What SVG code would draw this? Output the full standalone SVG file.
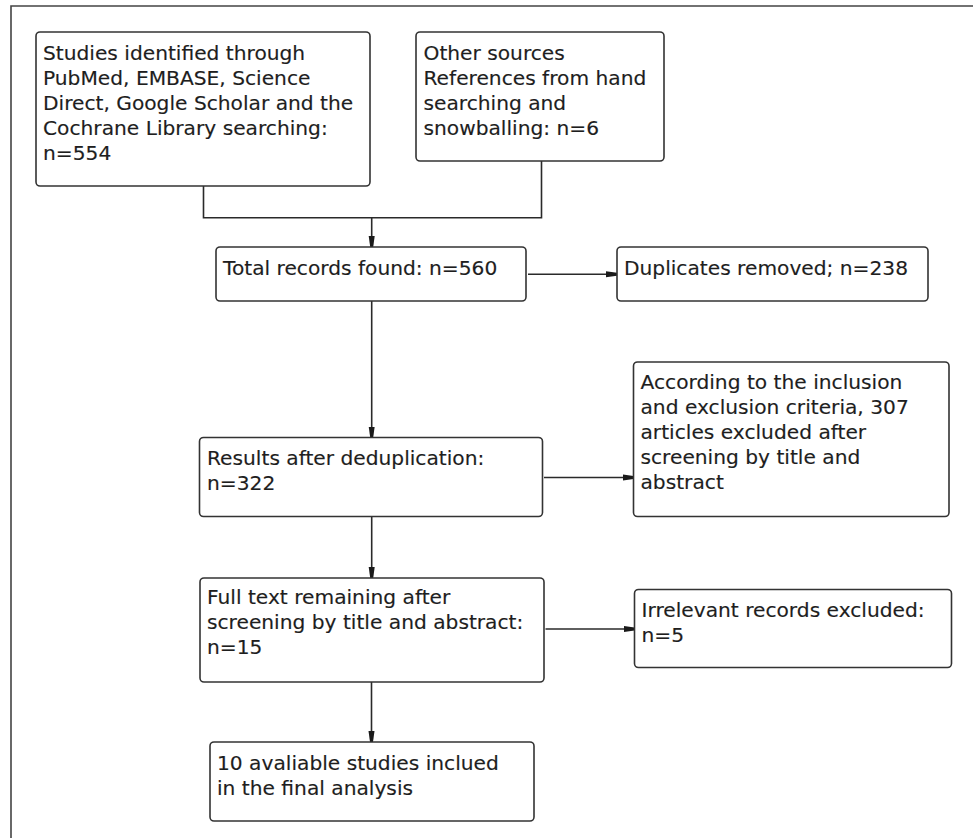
<svg xmlns="http://www.w3.org/2000/svg" width="973" height="838" viewBox="0 0 973 838">
<defs>
<style>
.box{fill:#fff;stroke:#333;stroke-width:1.6}
.t{font-family:"DejaVu Sans","Liberation Sans",sans-serif;font-size:20.2px;fill:#1e1e1e;stroke:#1e1e1e;stroke-width:0.15}
.ln{fill:none;stroke:#2a2a2a;stroke-width:1.6}
.frame{fill:none;stroke:#444;stroke-width:1.6}
</style>
<marker id="ah" markerUnits="userSpaceOnUse" viewBox="0 0 11 7" refX="11" refY="3.5" markerWidth="11" markerHeight="7" orient="auto">
<path d="M0,0.5 L11,2 L11,5 L0,6.5 Z" fill="#1a1a1a"/>
</marker>
</defs>
<rect width="973" height="838" fill="#fff"/>
<path class="frame" d="M11,838 V6 H973"/>
<g id="connectors">
<path class="ln" d="M203.5,186 V217.7 H541.5 V161"/>
<path class="ln" d="M371.7,217.7 V247" marker-end="url(#ah)"/>
<path class="ln" d="M528,274.3 H617" marker-end="url(#ah)"/>
<path class="ln" d="M371.7,301 V437.5" marker-end="url(#ah)"/>
<path class="ln" d="M544,477.5 H633.5" marker-end="url(#ah)"/>
<path class="ln" d="M371.7,516.5 V578" marker-end="url(#ah)"/>
<path class="ln" d="M545.5,629 H634.5" marker-end="url(#ah)"/>
<path class="ln" d="M371.5,682 V742" marker-end="url(#ah)"/>
</g>
<g id="identified">
<rect class="box" x="36" y="32" width="334" height="154" rx="4"/>
<text class="t" x="43" y="60">Studies identified through</text>
<text class="t" x="43" y="85">PubMed, EMBASE, Science</text>
<text class="t" x="43" y="110">Direct, Google Scholar and the</text>
<text class="t" x="43" y="135">Cochrane Library searching:</text>
<text class="t" x="43" y="160">n=554</text>
</g>
<g id="other">
<rect class="box" x="416" y="32" width="248" height="129" rx="4"/>
<text class="t" x="423.5" y="60">Other sources</text>
<text class="t" x="423.5" y="85">References from hand</text>
<text class="t" x="423.5" y="110">searching and</text>
<text class="t" x="423.5" y="135">snowballing: n=6</text>
</g>
<g id="total">
<rect class="box" x="216" y="247" width="310" height="54" rx="4"/>
<text class="t" x="223" y="275">Total records found: n=560</text>
</g>
<g id="duplicates">
<rect class="box" x="617" y="247" width="311" height="54" rx="4"/>
<text class="t" x="624" y="275">Duplicates removed; n=238</text>
</g>
<g id="dedup">
<rect class="box" x="199.5" y="437.5" width="343" height="79" rx="4"/>
<text class="t" x="207" y="465">Results after deduplication:</text>
<text class="t" x="207" y="490">n=322</text>
</g>
<g id="excluded-screening">
<rect class="box" x="633.5" y="362" width="315.5" height="154.5" rx="4"/>
<text class="t" x="640.5" y="389">According to the inclusion</text>
<text class="t" x="640.5" y="414">and exclusion criteria, 307</text>
<text class="t" x="640.5" y="439">articles excluded after</text>
<text class="t" x="640.5" y="464">screening by title and</text>
<text class="t" x="640.5" y="489">abstract</text>
</g>
<g id="fulltext">
<rect class="box" x="200" y="578" width="344" height="104" rx="4"/>
<text class="t" x="207" y="604">Full text remaining after</text>
<text class="t" x="207" y="629">screening by title and abstract:</text>
<text class="t" x="207" y="654">n=15</text>
</g>
<g id="irrelevant">
<rect class="box" x="634.5" y="589.5" width="317" height="78" rx="4"/>
<text class="t" x="641.5" y="617">Irrelevant records excluded:</text>
<text class="t" x="641.5" y="642">n=5</text>
</g>
<g id="included">
<rect class="box" x="210" y="742" width="324" height="79" rx="4"/>
<text class="t" x="217" y="770">10 avaliable studies inclued</text>
<text class="t" x="217" y="795">in the final analysis</text>
</g>
</svg>
